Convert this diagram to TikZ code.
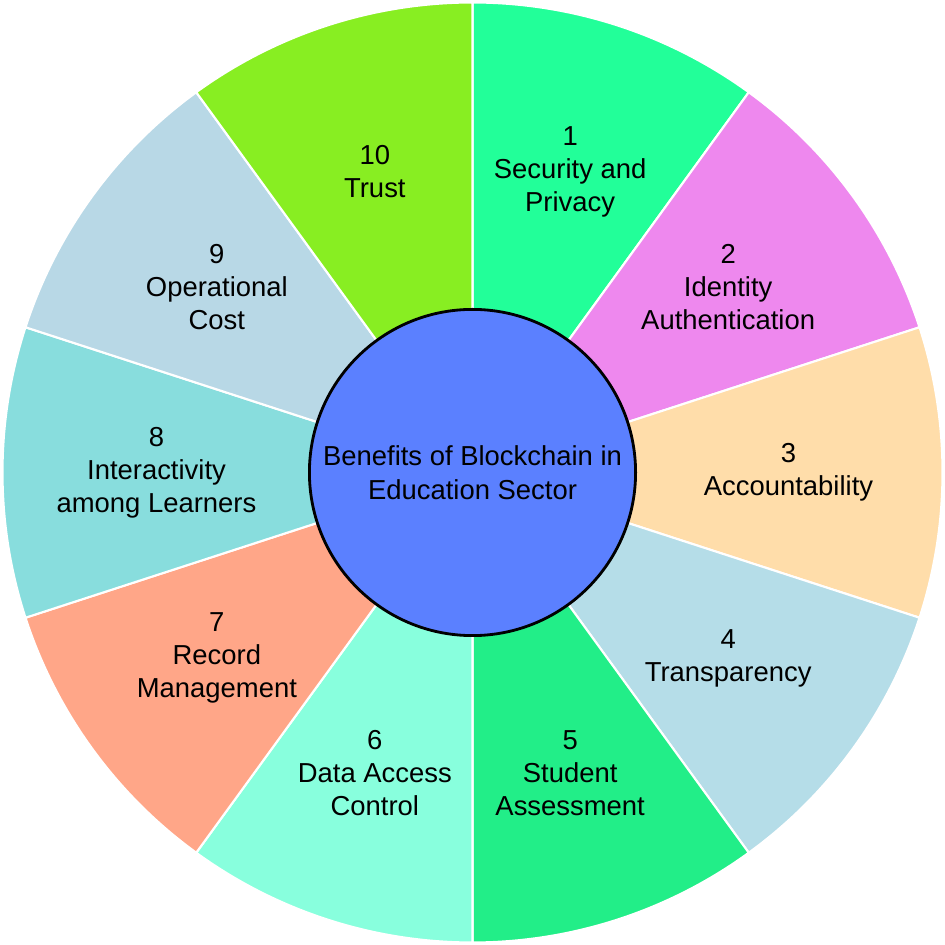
\documentclass[tikz,border=0pt]{standalone}
\usepackage{fontspec}
\setmainfont{Liberation Sans}
\usetikzlibrary{calc}
\begin{document}
\begin{tikzpicture}[x=0.01cm,y=0.01cm,
  lab/.style={align=center,font=\fontsize{7.8}{9.4}\selectfont},
  sect/.style={draw=white,line width=0.6pt}]
\useasboundingbox (0,0) rectangle (945,945);
\coordinate (c) at (472.5,472.5);
\definecolor{s1}{HTML}{22FF99}
\definecolor{s2}{HTML}{EE88EE}
\definecolor{s3}{HTML}{FFDDAA}
\definecolor{s4}{HTML}{B5DDE8}
\definecolor{s5}{HTML}{22EE88}
\definecolor{s6}{HTML}{88FFDD}
\definecolor{s7}{HTML}{FFA688}
\definecolor{s8}{HTML}{88DDDD}
\definecolor{s9}{HTML}{B8D8E6}
\definecolor{s10}{HTML}{88EE22}
\definecolor{hub}{HTML}{5B80FF}
\foreach \i/\t [evaluate=\i as \a using 90-36*(\i-1)] in
  {1/{1\\Security and\\Privacy},2/{2\\Identity\\Authentication},3/{3\\Accountability},
   4/{4\\Transparency},5/{5\\Student\\Assessment},6/{6\\Data Access\\Control},
   7/{7\\Record\\Management},8/{8\\Interactivity\\among Learners},
   9/{9\\Operational\\Cost},10/{10\\Trust}}{
  \fill[s\i,sect] (c) -- ++(\a:470) arc[start angle=\a,end angle=\a-36,radius=470] -- cycle;
  \node[lab] (l\i) at ($(c)+(\a-18:316)$) {\t};
}
\node[circle,draw=black,line width=0.8pt,fill=hub,minimum size=3.26cm,inner sep=0pt,
  lab,font=\fontsize{7.8}{9.6}\selectfont] (hubn) at (c) {Benefits of Blockchain in\\Education Sector};
\end{tikzpicture}
\end{document}
